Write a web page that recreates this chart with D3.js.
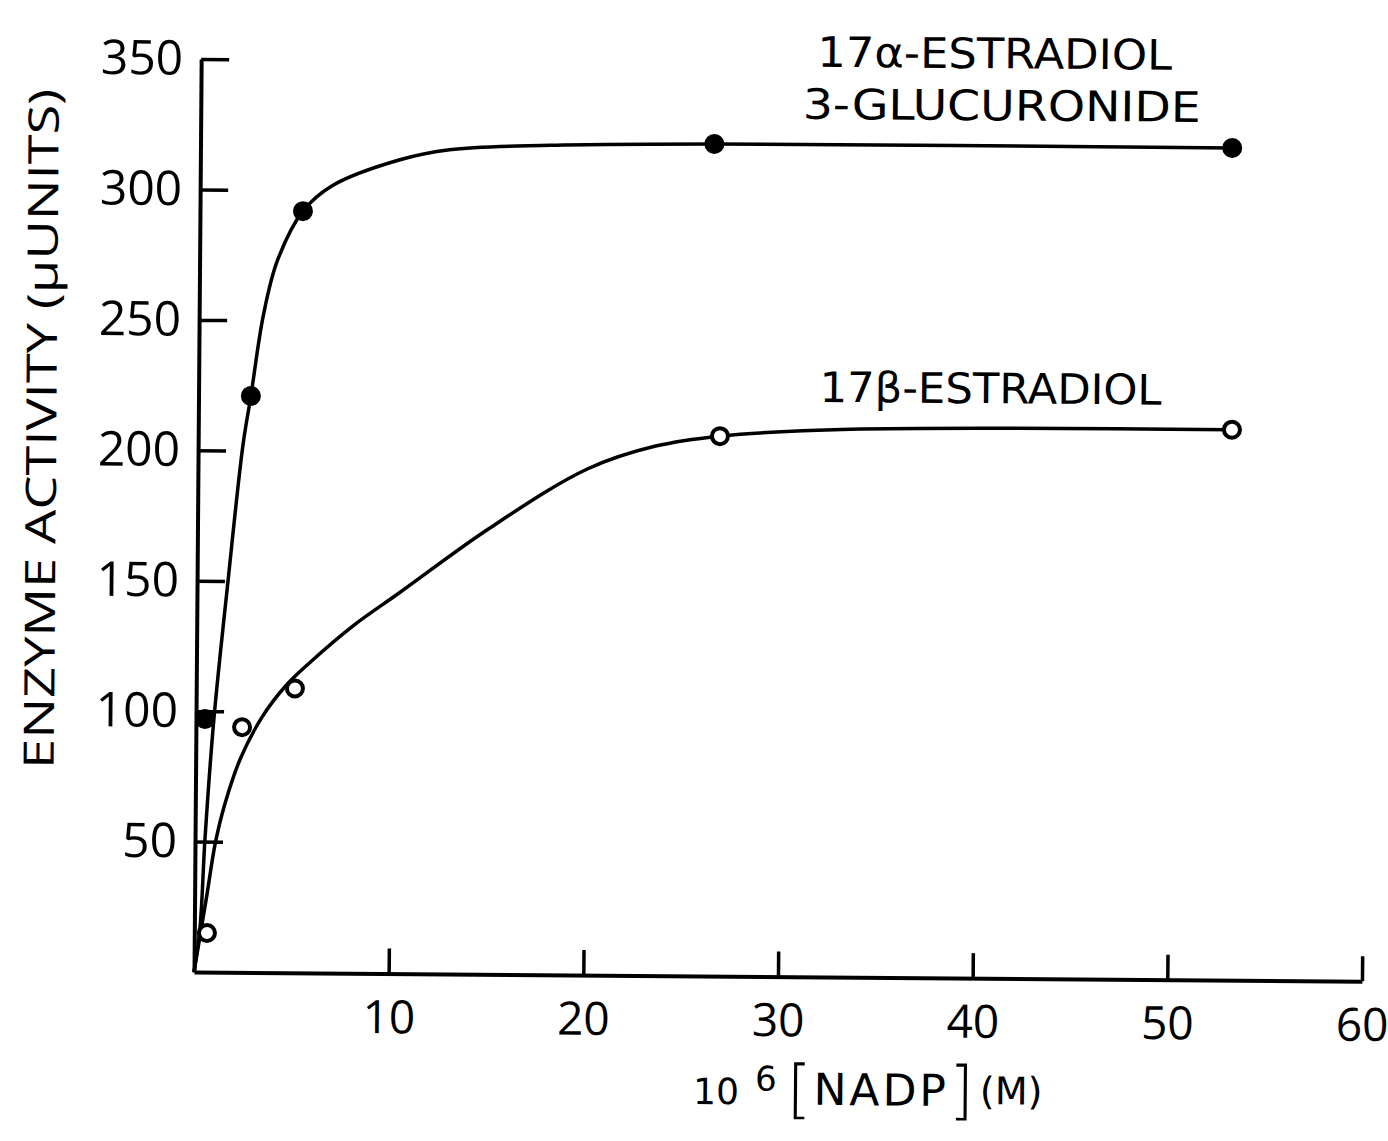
<!DOCTYPE html>
<html>
<head>
<meta charset="utf-8">
<script src="https://cdn.jsdelivr.net/npm/d3@7"></script>
<style>
  body { margin: 0; background: #fff; }
  svg { display: block; }
  text { fill: #000; }
</style>
</head>
<body>
<svg id="chart" width="1388" height="1141"></svg>
<script>
// Axis ticks
const xTicks = [10, 20, 30, 40, 50, 60];
const yTicks = [50, 100, 150, 200, 250, 300, 350];

// Measured activity, 17α-estradiol 3-glucuronide (filled circles)
const alphaNadp = [0.46, 2.69, 5.29, 26.4, 53.0];
const alphaActivity = [97, 221, 292, 319, 319];

// Measured activity, 17β-estradiol (open circles)
const betaNadp = [0.65, 2.37, 5.07, 26.8, 53.1];
const betaActivity = [15, 94, 109, 207, 211];

// Hand-fitted saturation curves: [NADP, activity] knots
const alphaCurve = [[0, 0], [0.29, 17], [0.51, 51], [0.92, 97], [1.59, 150], [2.3, 202],
  [2.69, 221], [3.3, 252], [4.0, 273], [5.29, 292], [6.82, 302],
  [10.25, 312], [12.8, 316], [17.95, 318], [26.4, 319], [53.0, 319]];
const betaCurve = [[0, 0], [0.64, 30], [1.03, 49], [1.5, 64], [2.3, 82], [3.4, 98],
  [4.6, 110], [5.83, 119], [8, 133], [10.4, 146], [15, 171], [20, 194],
  [23.5, 203], [26.8, 207], [33.5, 210], [53.1, 211]];

const mainFont = "'Open Sans', sans-serif";
const labelFont = "'DejaVu Sans', sans-serif";

const svg = d3.select("#chart");
const x = d3.scaleLinear().domain([0, 60]).range([194, 1362]);
const y = d3.scaleLinear().domain([0, 350]).range([972, 59]);

// whole plot sits slightly tilted on the page
const g = svg.append("g").attr("transform", `rotate(0.45, ${x(0)}, ${y(0)})`);

// y axis: ticks point inward, labels on the left
const yAxis = g.append("g")
  .attr("transform", `translate(${x(0)},0)`)
  .call(d3.axisLeft(y).tickValues(yTicks).tickSizeInner(-28).tickSizeOuter(0).tickPadding(18));
yAxis.select(".domain").attr("stroke-width", 4);
yAxis.selectAll(".tick line").attr("stroke-width", 3.5);
yAxis.selectAll(".tick text").style("font-size", "48px").style("font-family", mainFont);

// x axis: ticks point up
const xAxis = g.append("g")
  .attr("transform", `translate(0,${y(0)})`)
  .call(d3.axisBottom(x).tickValues(xTicks).tickSizeInner(-25).tickSizeOuter(0).tickPadding(27));
xAxis.select(".domain").attr("stroke-width", 4);
xAxis.selectAll(".tick line").attr("stroke-width", 3.5);
xAxis.selectAll(".tick text").style("font-size", "46px").style("font-family", mainFont);

// curves
const line = d3.line().x(d => x(d[0])).y(d => y(d[1])).curve(d3.curveCatmullRom.alpha(0.5));
g.append("path").datum(alphaCurve).attr("d", line)
  .attr("fill", "none").attr("stroke", "#000").attr("stroke-width", 3.5);
g.append("path").datum(betaCurve).attr("d", line)
  .attr("fill", "none").attr("stroke", "#000").attr("stroke-width", 3.5);

// markers
g.selectAll("circle.alpha").data(d3.zip(alphaNadp, alphaActivity)).join("circle")
  .attr("class", "alpha")
  .attr("cx", d => x(d[0])).attr("cy", d => y(d[1])).attr("r", 10)
  .attr("fill", "#000");
g.selectAll("circle.beta").data(d3.zip(betaNadp, betaActivity)).join("circle")
  .attr("class", "beta")
  .attr("cx", d => x(d[0])).attr("cy", d => y(d[1])).attr("r", 8)
  .attr("fill", "#fff").attr("stroke", "#000").attr("stroke-width", 4);

// series labels
function seriesLabel(tx, ty, len, str) {
  g.append("text").attr("x", tx).attr("y", ty)
    .style("font-family", labelFont).style("font-size", "42px")
    .attr("textLength", len).attr("lengthAdjust", "spacingAndGlyphs")
    .text(str);
}
seriesLabel(810, 62, 355, "17α-ESTRADIOL");
seriesLabel(796, 114, 398, "3-GLUCURONIDE");
seriesLabel(815, 397, 342, "17β-ESTRADIOL");

// y axis title
g.append("text")
  .attr("transform", "translate(52,430) rotate(-90)")
  .attr("text-anchor", "middle")
  .style("font-family", mainFont).style("font-size", "42px")
  .attr("textLength", 680).attr("lengthAdjust", "spacingAndGlyphs")
  .text("ENZYME ACTIVITY (μUNITS)");

// x axis title: 10⁶ [NADP] (M)
const xt = g.append("text").attr("x", 694).attr("y", 1100)
  .style("font-family", labelFont).style("font-size", "36px");
xt.append("tspan").text("10");
xt.append("tspan").attr("dx", 16).attr("dy", -14).style("font-size", "34px").text("6");
xt.append("tspan").attr("dx", 10).attr("dy", 20).style("font-size", "64px").style("font-weight", 300).text("[");
xt.append("tspan").attr("dx", 2).attr("dy", -6).style("font-size", "44px").style("letter-spacing", "3px").text("NADP");
xt.append("tspan").attr("dx", 0).attr("dy", 6).style("font-size", "64px").style("font-weight", 300).text("]");
xt.append("tspan").attr("dx", 6).attr("dy", -8).style("font-size", "38px").text("(M)");
</script>
</body>
</html>
